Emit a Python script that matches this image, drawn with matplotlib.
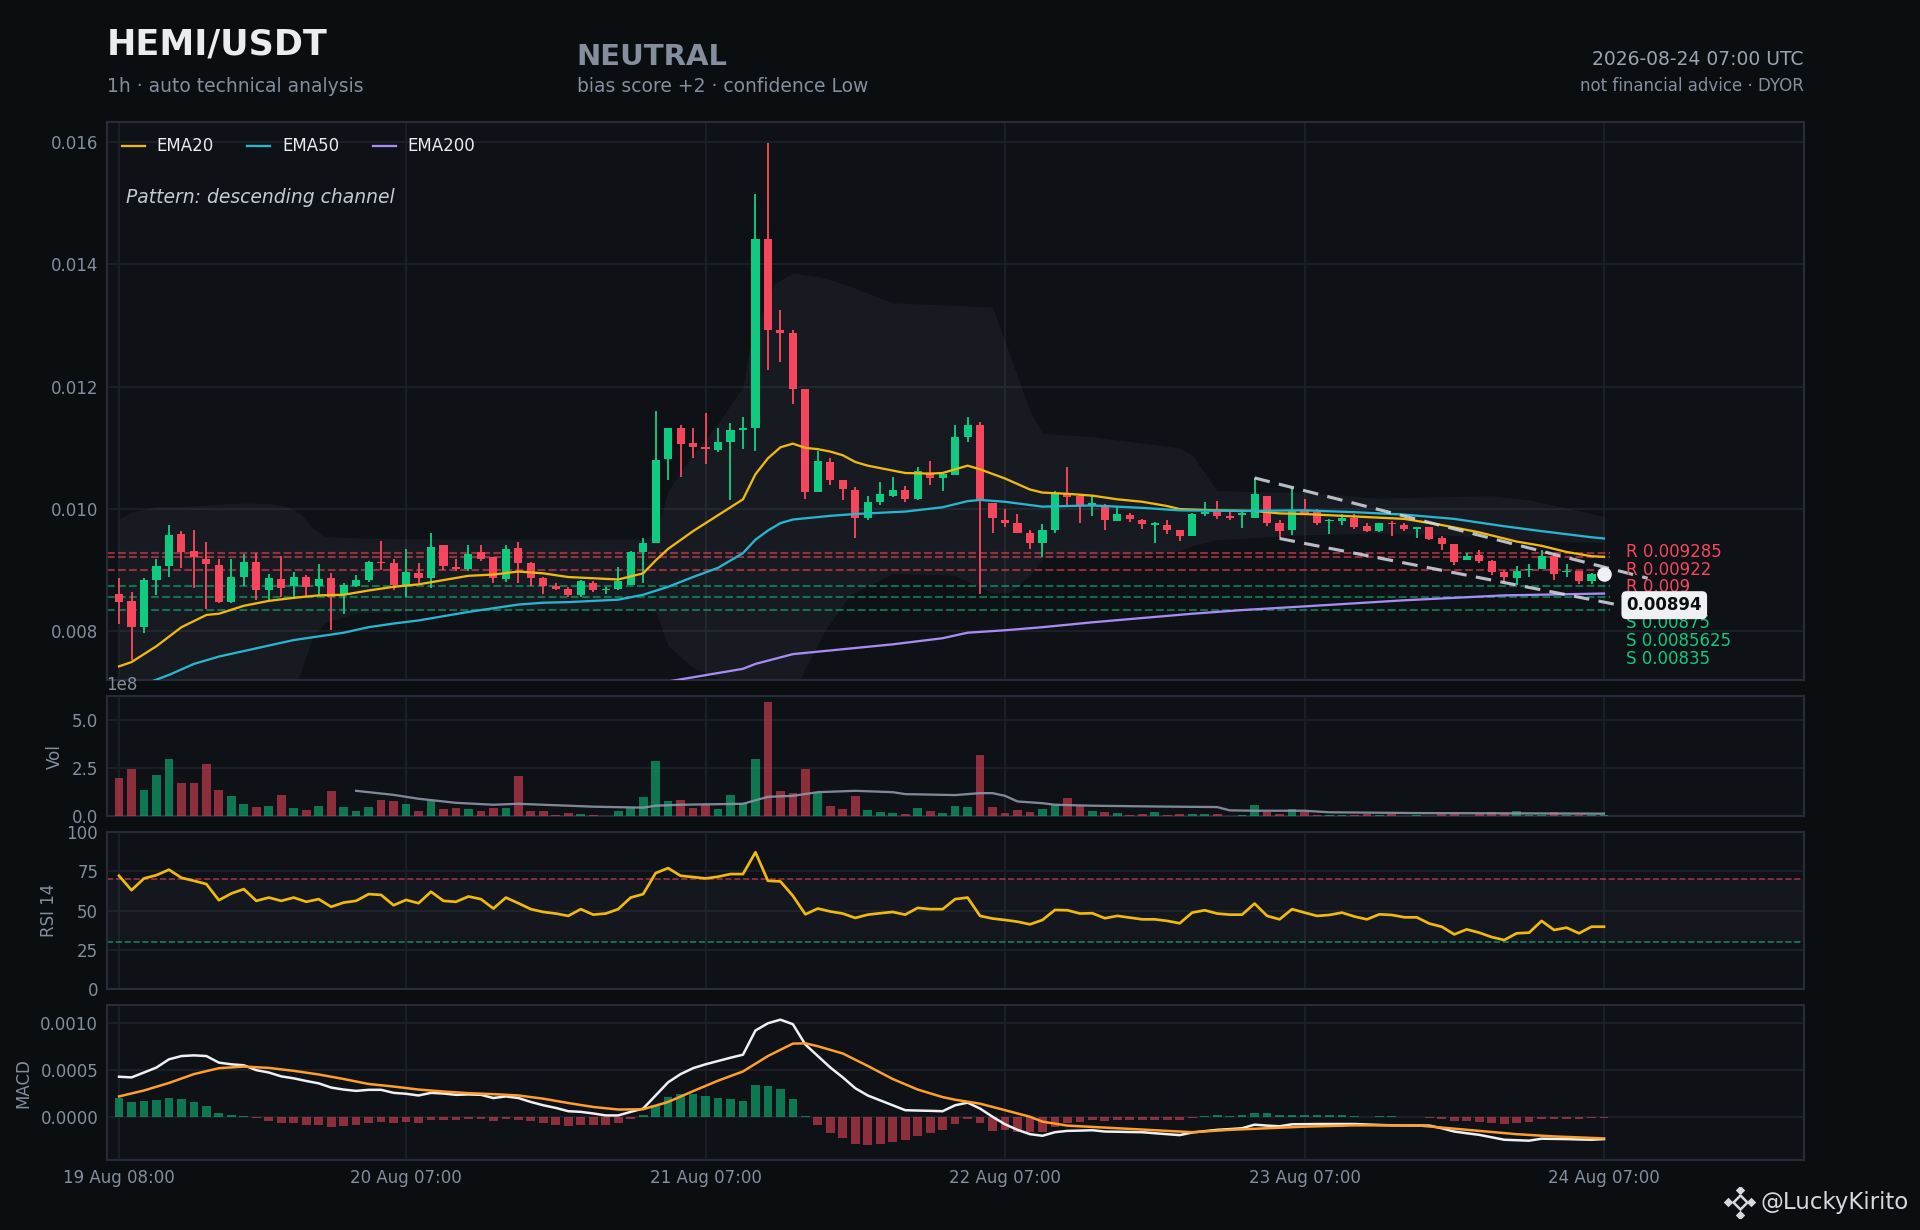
import matplotlib
matplotlib.use('Agg')
import matplotlib.pyplot as plt
import pandas as pd

# ---- candles (1h) ----
times = pd.date_range('2026-08-19 08:00', periods=120, freq='h')

opens = [0.00861, 0.00850, 0.00807, 0.00884, 0.00907, 0.00959, 0.00932, 0.00919, 0.00908, 0.00848,
         0.00889, 0.00913, 0.00867, 0.00885, 0.00874, 0.00889, 0.00874, 0.00887, 0.00859, 0.00875,
         0.00884, 0.00914, 0.00912, 0.00876, 0.00895, 0.00887, 0.00941, 0.00906, 0.00902, 0.00930,
         0.00921, 0.00886, 0.00936, 0.00912, 0.00887, 0.00874, 0.00869, 0.00860, 0.00880, 0.00867,
         0.00870, 0.00876, 0.00930, 0.00945, 0.01082, 0.01133, 0.01108, 0.01101, 0.01097, 0.01109,
         0.01130, 0.01132, 0.01442, 0.01292, 0.01287, 0.01197, 0.01028, 0.01077, 0.01047, 0.01032,
         0.00985, 0.01012, 0.01022, 0.01032, 0.01016, 0.01059, 0.01051, 0.01056, 0.01118, 0.01138,
         0.01010, 0.00983, 0.00977, 0.00961, 0.00945, 0.00966, 0.01025, 0.01021, 0.01006, 0.01004,
         0.00981, 0.00990, 0.00983, 0.00974, 0.00974, 0.00966, 0.00956, 0.00992, 0.00997, 0.00989,
         0.00991, 0.00986, 0.01021, 0.00977, 0.00966, 0.00999, 0.00995, 0.00981, 0.00981, 0.00986,
         0.00973, 0.00965, 0.00977, 0.00974, 0.00967, 0.00970, 0.00952, 0.00943, 0.00917, 0.00925,
         0.00915, 0.00898, 0.00888, 0.00900, 0.00902, 0.00923, 0.00897, 0.00899, 0.00883, 0.00894]
highs = [0.00888, 0.00864, 0.00887, 0.00919, 0.00974, 0.00964, 0.00966, 0.00946, 0.00919, 0.00919,
         0.00927, 0.00928, 0.00894, 0.00924, 0.00897, 0.00892, 0.00910, 0.00895, 0.00880, 0.00892,
         0.00916, 0.00948, 0.00919, 0.00935, 0.00912, 0.00961, 0.00941, 0.00919, 0.00941, 0.00941,
         0.00922, 0.00942, 0.00946, 0.00913, 0.00889, 0.00879, 0.00873, 0.00884, 0.00883, 0.00873,
         0.00905, 0.00932, 0.00953, 0.01161, 0.01133, 0.01138, 0.01132, 0.01157, 0.01133, 0.01141,
         0.01151, 0.01515, 0.01598, 0.01325, 0.01293, 0.01197, 0.01095, 0.01083, 0.01048, 0.01036,
         0.01021, 0.01045, 0.01053, 0.01038, 0.01069, 0.01079, 0.01059, 0.01138, 0.01151, 0.01142,
         0.01010, 0.01000, 0.00992, 0.00966, 0.00975, 0.01030, 0.01069, 0.01025, 0.01021, 0.01009,
         0.01004, 0.00994, 0.00984, 0.00979, 0.00983, 0.00966, 0.00993, 0.01012, 0.01013, 0.00995,
         0.00995, 0.01051, 0.01022, 0.00982, 0.01035, 0.01017, 0.01000, 0.00984, 0.00992, 0.00992,
         0.00977, 0.00978, 0.00981, 0.00978, 0.00970, 0.00970, 0.00956, 0.00943, 0.00928, 0.00933,
         0.00917, 0.00901, 0.00907, 0.00911, 0.00933, 0.00925, 0.00910, 0.00899, 0.00896, 0.00896]
lows = [0.00812, 0.00753, 0.00797, 0.00860, 0.00889, 0.00904, 0.00871, 0.00836, 0.00847, 0.00847,
        0.00875, 0.00852, 0.00852, 0.00856, 0.00857, 0.00857, 0.00859, 0.00802, 0.00828, 0.00872,
        0.00881, 0.00901, 0.00867, 0.00857, 0.00880, 0.00871, 0.00901, 0.00899, 0.00899, 0.00915,
        0.00879, 0.00881, 0.00880, 0.00875, 0.00862, 0.00867, 0.00857, 0.00857, 0.00864, 0.00862,
        0.00868, 0.00876, 0.00880, 0.00944, 0.01048, 0.01052, 0.01083, 0.01073, 0.01093, 0.01015,
        0.01098, 0.01095, 0.01227, 0.01241, 0.01171, 0.01016, 0.01028, 0.01039, 0.01015, 0.00953,
        0.00983, 0.01007, 0.01019, 0.01012, 0.01015, 0.01039, 0.01030, 0.01056, 0.01110, 0.00862,
        0.00961, 0.00971, 0.00961, 0.00935, 0.00922, 0.00961, 0.01007, 0.00977, 0.00988, 0.00966,
        0.00981, 0.00979, 0.00968, 0.00944, 0.00960, 0.00948, 0.00956, 0.00989, 0.00984, 0.00983,
        0.00969, 0.00986, 0.00972, 0.00952, 0.00958, 0.00990, 0.00974, 0.00959, 0.00974, 0.00967,
        0.00962, 0.00963, 0.00956, 0.00964, 0.00952, 0.00950, 0.00933, 0.00908, 0.00917, 0.00912,
        0.00892, 0.00881, 0.00876, 0.00889, 0.00902, 0.00884, 0.00889, 0.00877, 0.00877, 0.00890]
closes = [0.00849, 0.00807, 0.00884, 0.00907, 0.00958, 0.00930, 0.00921, 0.00911, 0.00848, 0.00889,
          0.00913, 0.00867, 0.00887, 0.00871, 0.00889, 0.00873, 0.00885, 0.00857, 0.00876, 0.00884,
          0.00913, 0.00912, 0.00876, 0.00897, 0.00887, 0.00938, 0.00907, 0.00902, 0.00927, 0.00918,
          0.00888, 0.00935, 0.00912, 0.00887, 0.00875, 0.00869, 0.00860, 0.00882, 0.00867, 0.00869,
          0.00882, 0.00930, 0.00945, 0.01080, 0.01133, 0.01107, 0.01102, 0.01098, 0.01109, 0.01130,
          0.01132, 0.01441, 0.01292, 0.01287, 0.01196, 0.01028, 0.01079, 0.01048, 0.01033, 0.00986,
          0.01012, 0.01024, 0.01032, 0.01016, 0.01062, 0.01051, 0.01057, 0.01118, 0.01138, 0.01013,
          0.00986, 0.00977, 0.00961, 0.00945, 0.00966, 0.01025, 0.01019, 0.01007, 0.01010, 0.00983,
          0.00992, 0.00984, 0.00975, 0.00977, 0.00966, 0.00956, 0.00992, 0.00995, 0.00989, 0.00986,
          0.00993, 0.01024, 0.00978, 0.00965, 0.00998, 0.00994, 0.00978, 0.00983, 0.00986, 0.00970,
          0.00965, 0.00978, 0.00975, 0.00967, 0.00970, 0.00951, 0.00943, 0.00914, 0.00923, 0.00916,
          0.00898, 0.00889, 0.00899, 0.00902, 0.00923, 0.00894, 0.00899, 0.00883, 0.00894, 0.00894]

# volume in units of 1e8
volume = [2.00, 2.45, 1.37, 2.14, 2.96, 1.73, 1.73, 2.71, 1.37, 1.06,
          0.65, 0.50, 0.55, 1.11, 0.45, 0.34, 0.55, 1.32, 0.50, 0.29,
          0.50, 0.86, 0.80, 0.65, 0.29, 0.80, 0.39, 0.45, 0.39, 0.29,
          0.45, 0.45, 2.09, 0.29, 0.29, 0.09, 0.19, 0.14, 0.09, 0.03,
          0.29, 0.45, 1.01, 2.86, 0.80, 0.86, 0.45, 0.60, 0.39, 1.11,
          0.70, 2.96, 5.89, 1.32, 1.20, 2.45, 1.20, 0.55, 0.39, 1.06,
          0.34, 0.24, 0.19, 0.14, 0.45, 0.29, 0.19, 0.55, 0.50, 3.17,
          0.50, 0.19, 0.34, 0.24, 0.39, 0.60, 0.96, 0.55, 0.29, 0.24,
          0.19, 0.09, 0.14, 0.24, 0.09, 0.14, 0.14, 0.14, 0.14, 0.03,
          0.09, 0.60, 0.24, 0.14, 0.39, 0.24, 0.09, 0.09, 0.09, 0.09,
          0.14, 0.09, 0.14, 0.03, 0.09, 0.03, 0.14, 0.14, 0.03, 0.14,
          0.24, 0.14, 0.29, 0.09, 0.09, 0.24, 0.09, 0.09, 0.09, 0.05]
vol_ma_x = [19, 22, 24, 27, 30, 32, 36, 38, 42, 43, 45, 50, 52, 54, 56, 59, 62, 63, 67,
            69, 70, 71, 72, 74, 75, 78, 83, 88, 89, 91, 95, 97, 104, 119]
vol_ma_y = [1.32, 1.11, 0.91, 0.70, 0.60, 0.65, 0.55, 0.50, 0.45, 0.55, 0.60, 0.65, 1.01, 1.06,
            1.25, 1.32, 1.25, 1.15, 1.10, 1.20, 1.20, 1.06, 0.77, 0.68, 0.60, 0.55, 0.51, 0.48,
            0.31, 0.29, 0.29, 0.21, 0.17, 0.14]

# moving averages (read at sample points)
ema20_x = [0, 1, 3, 5, 7, 8, 10, 12, 14, 16, 18, 20, 22, 24, 26, 28, 30, 32, 34, 36, 38, 40, 42,
           43, 44, 46, 48, 49, 50, 51, 52, 53, 54, 55, 56, 57, 58, 59, 60, 61, 63, 65, 66, 67,
           68, 69, 71, 73, 74, 76, 78, 80, 82, 84, 85, 88, 91, 93, 95, 99, 103, 106, 109, 112,
           114, 116, 118, 119]
ema20_y = [0.00743, 0.00750, 0.00776, 0.00807, 0.00827, 0.00829, 0.00842, 0.00850, 0.00855,
           0.00859, 0.00860, 0.00867, 0.00873, 0.00877, 0.00884, 0.00891, 0.00893, 0.00898,
           0.00895, 0.00889, 0.00887, 0.00885, 0.00895, 0.00916, 0.00935, 0.00964, 0.00990,
           0.01003, 0.01016, 0.01057, 0.01083, 0.01101, 0.01107, 0.01100, 0.01098, 0.01094,
           0.01088, 0.01077, 0.01071, 0.01067, 0.01059, 0.01058, 0.01059, 0.01065, 0.01071,
           0.01065, 0.01050, 0.01032, 0.01027, 0.01025, 0.01022, 0.01016, 0.01012, 0.01005,
           0.01000, 0.00998, 0.00997, 0.00993, 0.00992, 0.00988, 0.00984, 0.00974, 0.00962,
           0.00947, 0.00940, 0.00930, 0.00923, 0.00922]
ema50_x = [0, 2.7, 4, 6, 8, 10, 12, 14, 16, 18, 20, 22, 24, 26, 28, 30, 32, 34, 36, 38, 40, 42,
           44, 46, 48, 50, 51, 52, 53, 54, 55, 57, 59, 61, 63, 66, 68, 69, 71, 74, 78, 82, 85,
           90, 95, 99, 103, 107, 111, 114, 118, 119]
ema50_y = [0.00695, 0.00719, 0.00729, 0.00747, 0.00759, 0.00768, 0.00777, 0.00786, 0.00792,
           0.00798, 0.00807, 0.00813, 0.00818, 0.00825, 0.00832, 0.00838, 0.00844, 0.00847,
           0.00848, 0.00850, 0.00852, 0.00860, 0.00873, 0.00889, 0.00904, 0.00928, 0.00950,
           0.00965, 0.00977, 0.00983, 0.00985, 0.00989, 0.00992, 0.00994, 0.00996, 0.01003,
           0.01013, 0.01015, 0.01012, 0.01004, 0.01006, 0.01002, 0.00998, 0.00997, 0.00998,
           0.00995, 0.00991, 0.00984, 0.00972, 0.00964, 0.00954, 0.00952]
ema200_x = [38, 44.5, 50, 51, 54, 58, 62, 66, 68, 71, 74, 78, 82, 86, 90, 95, 103, 111, 119]
ema200_y = [0.00698, 0.00720, 0.00739, 0.00747, 0.00763, 0.00771, 0.00779, 0.00789, 0.00798,
            0.00802, 0.00807, 0.00815, 0.00822, 0.00829, 0.00835, 0.00841, 0.00851, 0.00859,
            0.00862]

# volatility band
band_x = [0, 1, 3, 5, 8, 10, 12, 13.5, 14.5, 15.5, 16.5, 19, 26, 42, 43, 44, 46, 48, 50,
          50.7, 52.5, 54, 56.5, 58.6, 62, 67, 70, 71.5, 73, 74, 78, 81.5, 85, 86, 88, 95,
          101, 110, 113, 119]
band_up_y = [0.00983, 0.00995, 0.01004, 0.01004, 0.01008, 0.01010, 0.01009, 0.01004, 0.00993,
             0.00970, 0.00955, 0.00953, 0.00951, 0.00951, 0.00958, 0.01030, 0.01090, 0.01140,
             0.01200, 0.01280, 0.01368, 0.01386, 0.01378, 0.01364, 0.01337, 0.01333, 0.01330,
             0.01245, 0.01160, 0.01124, 0.01118, 0.01109, 0.01100, 0.01088, 0.01030, 0.01027,
             0.01018, 0.01022, 0.01015, 0.00988]
band_lo_y = [0.00650, 0.00655, 0.00665, 0.00672, 0.00680, 0.00685, 0.00690, 0.00700, 0.00730,
             0.00790, 0.00815, 0.00830, 0.00836, 0.00836, 0.00833, 0.00777, 0.00741, 0.00725,
             0.00700, 0.00695, 0.00695, 0.00700, 0.00800, 0.00860, 0.00895, 0.00892, 0.00862,
             0.00865, 0.00892, 0.00920, 0.00925, 0.00925, 0.00932, 0.00940, 0.00950, 0.00958,
             0.00961, 0.00955, 0.00950, 0.00945]

# RSI 14
rsi = [72.2, 63.0, 70.5, 72.6, 76.1, 70.9, 69.0, 66.9, 56.6, 60.9,
       63.7, 56.2, 58.3, 56.2, 58.3, 55.6, 57.3, 52.4, 55.1, 56.2,
       60.5, 60.0, 53.4, 56.8, 54.7, 62.0, 56.2, 55.6, 59.0, 57.3,
       51.3, 58.3, 54.7, 50.9, 49.1, 48.1, 46.6, 50.9, 47.4, 48.1,
       50.9, 58.3, 60.5, 73.9, 77.1, 72.2, 71.4, 70.5, 71.6, 73.3,
       73.3, 87.2, 69.0, 68.6, 59.4, 47.6, 51.3, 49.4, 48.1, 45.3,
       47.4, 48.3, 49.1, 47.4, 51.7, 50.9, 50.9, 57.3, 58.3, 46.6,
       44.9, 44.0, 42.9, 41.2, 44.0, 50.4, 50.2, 48.1, 48.3, 45.1,
       46.6, 45.5, 44.4, 44.4, 43.4, 41.9, 48.7, 50.2, 48.1, 47.4,
       47.4, 54.5, 46.6, 44.4, 50.9, 48.7, 46.6, 47.2, 48.7, 46.2,
       44.4, 47.6, 47.2, 45.7, 45.7, 41.7, 39.7, 34.8, 38.0, 35.9,
       33.1, 31.2, 35.5, 35.9, 43.4, 37.6, 39.1, 35.5, 39.7, 39.7]

# MACD
macd = [0.000432, 0.000425, 0.000477, 0.000530, 0.000617, 0.000652, 0.000659, 0.000652, 0.000582, 0.000564,
        0.000554, 0.000502, 0.000477, 0.000436, 0.000415, 0.000387, 0.000362, 0.000317, 0.000296, 0.000282,
        0.000293, 0.000293, 0.000261, 0.000251, 0.000233, 0.000261, 0.000254, 0.000240, 0.000244, 0.000240,
        0.000206, 0.000223, 0.000206, 0.000164, 0.000129, 0.000101, 0.000066, 0.000059, 0.000042, 0.000021,
        0.000021, 0.000059, 0.000094, 0.000233, 0.000373, 0.000460, 0.000523, 0.000564, 0.000599, 0.000634,
        0.000666, 0.000923, 0.001000, 0.001038, 0.000990, 0.000774, 0.000652, 0.000530, 0.000425, 0.000310,
        0.000233, 0.000181, 0.000129, 0.000077, 0.000073, 0.000070, 0.000066, 0.000129, 0.000157, 0.000094,
        0.000007, -0.000073, -0.000132, -0.000178, -0.000195, -0.000157, -0.000143, -0.000140, -0.000136, -0.000150,
        -0.000152, -0.000155, -0.000157, -0.000168, -0.000178, -0.000188, -0.000160, -0.000146, -0.000132, -0.000124,
        -0.000115, -0.000077, -0.000087, -0.000094, -0.000073, -0.000072, -0.000070, -0.000070, -0.000070, -0.000070,
        -0.000075, -0.000080, -0.000084, -0.000085, -0.000086, -0.000087, -0.000115, -0.000150, -0.000168, -0.000185,
        -0.000211, -0.000237, -0.000242, -0.000247, -0.000226, -0.000228, -0.000230, -0.000234, -0.000237, -0.000230]
signal_x = [0, 2, 4, 6, 8, 10, 12, 14, 16, 18, 20, 22, 24, 26, 28, 30, 32, 34, 36, 38, 40, 42, 44,
            46, 48, 50, 52, 54, 55, 56, 58, 60, 62, 64, 66, 67, 69, 71, 73, 74, 76, 79, 82, 85,
            86, 89, 92, 95, 99, 104, 106, 109, 112, 115, 119]
signal_y = [0.000223, 0.000286, 0.000366, 0.000460, 0.000523, 0.000540, 0.000526, 0.000495,
            0.000456, 0.000408, 0.000355, 0.000328, 0.000296, 0.000275, 0.000258, 0.000247,
            0.000233, 0.000199, 0.000153, 0.000111, 0.000084, 0.000087, 0.000164, 0.000279,
            0.000390, 0.000488, 0.000652, 0.000784, 0.000787, 0.000756, 0.000679, 0.000547,
            0.000408, 0.000296, 0.000216, 0.000188, 0.000146, 0.000077, 0.000007, -0.000045,
            -0.000087, -0.000108, -0.000129, -0.000150, -0.000157, -0.000132, -0.000115,
            -0.000098, -0.000084, -0.000084, -0.000108, -0.000143, -0.000178, -0.000202, -0.000223]
hist = [0.000209, 0.000167, 0.000178, 0.000188, 0.000209, 0.000199, 0.000167, 0.000125, 0.000052, 0.000021,
        0.000010, -0.000010, -0.000038, -0.000059, -0.000059, -0.000080, -0.000080, -0.000101, -0.000091, -0.000080,
        -0.000059, -0.000049, -0.000059, -0.000052, -0.000059, -0.000028, -0.000028, -0.000028, -0.000017, -0.000017,
        -0.000038, -0.000017, -0.000028, -0.000038, -0.000059, -0.000080, -0.000091, -0.000080, -0.000080, -0.000080,
        -0.000059, -0.000017, 0.000021, 0.000129, 0.000220, 0.000251, 0.000251, 0.000230, 0.000209, 0.000199,
        0.000178, 0.000345, 0.000334, 0.000303, 0.000199, 0.000010, -0.000080, -0.000164, -0.000220, -0.000279,
        -0.000289, -0.000279, -0.000258, -0.000237, -0.000195, -0.000164, -0.000132, -0.000070, -0.000017, -0.000059,
        -0.000143, -0.000132, -0.000150, -0.000157, -0.000150, -0.000098, -0.000059, -0.000045, -0.000028, -0.000038,
        -0.000028, -0.000028, -0.000028, -0.000028, -0.000028, -0.000028, -0.000010, 0.000014, 0.000021, 0.000014,
        0.000021, 0.000052, 0.000042, 0.000021, 0.000031, 0.000031, 0.000021, 0.000021, 0.000021, 0.000010,
        0.000000, 0.000010, 0.000010, 0.000000, 0.000000, -0.000003, -0.000017, -0.000038, -0.000038, -0.000049,
        -0.000059, -0.000070, -0.000059, -0.000049, -0.000017, -0.000017, -0.000017, -0.000017, -0.000007, -0.000005]

# levels and pattern
resistances = [0.009285, 0.00922, 0.009]
supports = [0.00875, 0.0085625, 0.00835]
last_price = 0.00894
chan_up_x, chan_up_y = [91, 122.5], [0.01051, 0.00887]
chan_lo_x, chan_lo_y = [93, 122.5], [0.00952, 0.00834]

# ---- style ----
BG = '#0b0e11'
PANEL = '#0e1116'
GRID = '#1d212b'
SPINE = '#272c38'
TXT = '#848e9c'
GREEN = '#0ecb81'
RED = '#f6465d'

plt.rcParams['font.family'] = ['DejaVu Sans']
fig = plt.figure(figsize=(12.8, 8.2), dpi=150, facecolor=BG)

L, W = 0.0555, 0.8839
ax = fig.add_axes([L, 0.4468, W, 0.4537])
axv = fig.add_axes([L, 0.3363, W, 0.0975], sharex=ax)
axr = fig.add_axes([L, 0.1960, W, 0.1274], sharex=ax)
axm = fig.add_axes([L, 0.0567, W, 0.1263], sharex=ax)

n = len(closes)
xs = list(range(n))
tick_idx = [0] + [i for i, t in enumerate(times) if t.hour == 7]
tick_lab = [times[i].strftime('%d %b %H:%M') for i in tick_idx]

for a in (ax, axv, axr, axm):
    a.set_facecolor(PANEL)
    for s in a.spines.values():
        s.set_color(SPINE)
        s.set_linewidth(1.0)
    a.grid(True, color=GRID, linewidth=0.8)
    a.set_axisbelow(True)
    a.tick_params(colors=TXT, labelsize=8, length=0, pad=4)
    a.set_xticks(tick_idx)
    a.yaxis.get_offset_text().set_color(TXT)
    a.yaxis.get_offset_text().set_fontsize(8)
for a in (ax, axv, axr):
    a.tick_params(labelbottom=False)
axm.set_xticklabels(tick_lab)
ax.set_xlim(-1, 135)

# ---- price panel ----
ax.fill_between(band_x, band_up_y, band_lo_y, color='#8a93a6', alpha=0.08, linewidth=0, zorder=1)

up = [c >= o for o, c in zip(opens, closes)]
cols = [GREEN if u else RED for u in up]
ax.vlines(xs, lows, highs, colors=cols, linewidth=0.9, zorder=3)
bottoms = [min(o, c) for o, c in zip(opens, closes)]
heights = [max(abs(c - o), 0.000014) for o, c in zip(opens, closes)]
ax.bar(xs, heights, bottom=bottoms, width=0.65, color=cols, linewidth=0, zorder=4)

ax.plot(ema20_x, ema20_y, color='#f0b90b', lw=1.1, label='EMA20', zorder=5)
ax.plot(ema50_x, ema50_y, color='#26b7cf', lw=1.1, label='EMA50', zorder=5)
ax.plot(ema200_x, ema200_y, color='#a98bf5', lw=1.1, label='EMA200', zorder=5)

ax.hlines(resistances, -1, 119.5, colors=RED, linestyles='--', linewidth=1.0, alpha=0.55, zorder=2)
ax.hlines(supports, -1, 119.5, colors=GREEN, linestyles='--', linewidth=1.0, alpha=0.5, zorder=2)

ax.plot(chan_up_x, chan_up_y, color='#d6dae2', lw=1.5, ls=(0, (5, 3)), alpha=0.85, zorder=6)
ax.plot(chan_lo_x, chan_lo_y, color='#d6dae2', lw=1.5, ls=(0, (5, 3)), alpha=0.85, zorder=6)

ax.plot([n - 1], [last_price], 'o', color='#eef0f3', markersize=6, zorder=8)

lab_x = 120.8
lab_y = [0.00930, 0.00901, 0.00872, 0.00843, 0.00814, 0.00784, 0.00755]
for t, y in zip(['0.009285', '0.00922', '0.009'], lab_y[:3]):
    ax.text(lab_x, y, 'R ' + t, color=RED, fontsize=8, va='center', ha='left', zorder=9)
ax.text(lab_x, lab_y[3], '%.5f' % last_price, color='#0b0e11', fontsize=8, fontweight='bold',
        va='center', ha='left', zorder=10,
        bbox=dict(boxstyle='round,pad=0.3', fc='#eef0f3', ec='none'))
for t, y in zip(['0.00875', '0.0085625', '0.00835'], lab_y[4:]):
    ax.text(lab_x, y, 'S ' + t, color=GREEN, fontsize=8, va='center', ha='left', zorder=9)

ax.text(0.0115, 0.866, 'Pattern: descending channel', transform=ax.transAxes,
        fontsize=9, style='italic', color='#c4c9d2', va='center', ha='left')

ax.set_ylim(0.0072, 0.01632)
ax.set_yticks([0.008, 0.010, 0.012, 0.014, 0.016])
ax.set_yticklabels(['%.3f' % v for v in [0.008, 0.010, 0.012, 0.014, 0.016]])
leg = ax.legend(loc='upper left', ncol=3, frameon=False, fontsize=8, handlelength=1.4,
                borderaxespad=0.5, handletextpad=0.7)
for t in leg.get_texts():
    t.set_color('#eaecef')

# ---- volume ----
axv.bar(xs, [v * 1e8 for v in volume], width=0.7, color=cols, alpha=0.55, linewidth=0, zorder=3)
axv.plot(vol_ma_x, [v * 1e8 for v in vol_ma_y], color='#8d96a6', lw=1.1, alpha=0.9, zorder=4)
axv.set_ylim(0, 6.2e8)
axv.set_yticks([0, 2.5e8, 5e8])
axv.set_ylabel('Vol', color=TXT, fontsize=8)

# ---- RSI ----
axr.axhspan(30, 70, color='#8a93a6', alpha=0.05, linewidth=0)
axr.axhline(70, color=RED, ls='--', lw=0.8, alpha=0.6)
axr.axhline(30, color=GREEN, ls='--', lw=0.8, alpha=0.6)
axr.plot(xs, rsi, color='#f0b90b', lw=1.3, zorder=4)
axr.set_ylim(0, 100)
axr.set_yticks([0, 25, 50, 75, 100])
axr.set_ylabel('RSI 14', color=TXT, fontsize=8)

# ---- MACD ----
hcols = [GREEN if h >= 0 else RED for h in hist]
axm.bar(xs, hist, width=0.7, color=hcols, alpha=0.55, linewidth=0, zorder=3)
axm.plot(xs, macd, color='#eef0f3', lw=1.2, zorder=4)
axm.plot(signal_x, signal_y, color='#ff9f2a', lw=1.2, zorder=4)
axm.set_ylim(-0.000455, 0.001195)
axm.set_yticks([0, 0.0005, 0.0010])
axm.set_yticklabels(['0.0000', '0.0005', '0.0010'])
axm.set_ylabel('MACD', color=TXT, fontsize=8)

# ---- header ----
fig.text(L, 0.9636, 'HEMI/USDT', color='#eaecef', fontsize=16.8, fontweight='bold', va='center')
fig.text(L, 0.930, '1h · auto technical analysis', color=TXT, fontsize=9, va='center')
fig.text(0.3004, 0.954, 'NEUTRAL', color=TXT, fontsize=14, fontweight='bold', va='center')
fig.text(0.3004, 0.930, 'bias score +2 · confidence Low', color=TXT, fontsize=9, va='center')
fig.text(L + W, 0.952, '2026-08-24 07:00 UTC', color='#9aa3ae', fontsize=9, va='center', ha='right')
fig.text(L + W, 0.930, 'not financial advice · DYOR', color=TXT, fontsize=8, va='center', ha='right')

# ---- watermark ----
fig.text(0.994, 0.022, '@LuckyKirito', color='#d5d8dc', fontsize=11, va='center', ha='right')
axl = fig.add_axes([0.898, 0.010, 0.016, 0.025])
axl.set_axis_off()
axl.plot([0.5], [0.5], marker='D', markersize=4.5, markerfacecolor='none',
         markeredgecolor='#d5d8dc', markeredgewidth=1.2)
axl.plot([0.5, 0.5, 0.12, 0.88], [0.9, 0.1, 0.5, 0.5], 'D', color='#d5d8dc', markersize=2.2)
axl.set_xlim(0, 1)
axl.set_ylim(0, 1)

fig.savefig('out.png', dpi=150, facecolor=BG)
